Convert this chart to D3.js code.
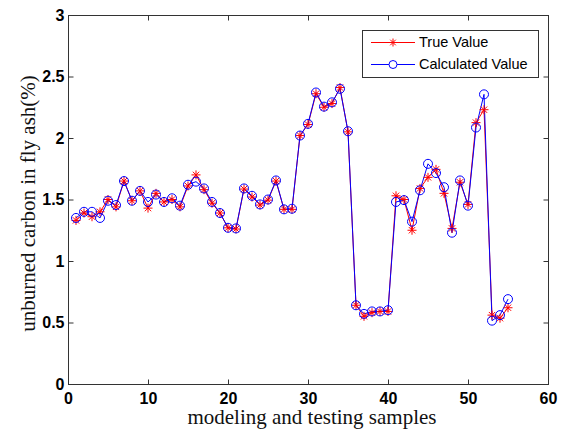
<!DOCTYPE html>
<html><head><meta charset="utf-8">
<script src="https://cdn.jsdelivr.net/npm/d3@7"></script>
<style>html,body{margin:0;padding:0;background:#fff;}svg{display:block;}</style>
</head><body>
<svg id="chart" width="564" height="432"></svg>
<script>
const samples = [1,2,3,4,5,6,7,8,9,10,11,12,13,14,15,16,17,18,19,20,21,22,23,24,25,26,27,28,29,30,31,32,33,34,35,36,37,38,39,40,41,42,43,44,45,46,47,48,49,50,51,52,53,54,55];
const trueValue = [1.33,1.39,1.36,1.40,1.50,1.44,1.65,1.49,1.57,1.43,1.55,1.48,1.50,1.44,1.61,1.70,1.58,1.47,1.39,1.27,1.26,1.585,1.52,1.455,1.495,1.65,1.42,1.42,2.02,2.11,2.36,2.25,2.28,2.41,2.05,0.64,0.55,0.58,0.59,0.59,1.53,1.50,1.25,1.59,1.68,1.745,1.55,1.265,1.64,1.46,2.125,2.23,0.56,0.535,0.62];
const calcValue = [1.35,1.40,1.40,1.35,1.49,1.455,1.65,1.49,1.57,1.48,1.54,1.48,1.51,1.45,1.62,1.645,1.59,1.48,1.39,1.27,1.265,1.59,1.53,1.46,1.50,1.655,1.42,1.425,2.02,2.115,2.37,2.255,2.29,2.40,2.055,0.64,0.57,0.59,0.59,0.60,1.48,1.495,1.32,1.575,1.79,1.715,1.60,1.23,1.655,1.45,2.085,2.355,0.515,0.56,0.69];
const xTicks = [0,10,20,30,40,50,60];
const yTicks = [0,0.5,1,1.5,2,2.5,3];
const yTickLabels = ["0","0.5","1","1.5","2","2.5","3"];
const seriesNames = ["True Value","Calculated Value"];

const svg = d3.select("#chart");
const L = 68, R = 548, T = 15, B = 384;
const x = d3.scaleLinear().domain([0,60]).range([L,R]);
const y = d3.scaleLinear().domain([0,3]).range([B,T]);

const axColor = "#333";
const tickFont = "bold 16px 'Liberation Sans', Arial, sans-serif";

// box
svg.append("rect").attr("x",L+0.5).attr("y",T+0.5).attr("width",R-L).attr("height",B-T)
  .attr("fill","#fff").attr("stroke",axColor).attr("stroke-width",1);

// axes with inward ticks
const gx = svg.append("g").attr("transform",`translate(0,${B+0.5})`)
  .call(d3.axisBottom(x).tickValues(xTicks).tickSizeInner(-5).tickSizeOuter(0).tickPadding(10).tickFormat(d3.format("d")));
const gxt = svg.append("g").attr("transform",`translate(0,${T+0.5})`)
  .call(d3.axisTop(x).tickValues(xTicks).tickSizeInner(-5).tickSizeOuter(0).tickFormat(""));
const gy = svg.append("g").attr("transform",`translate(${L+0.5},0)`)
  .call(d3.axisLeft(y).tickValues(yTicks).tickSizeInner(-5).tickSizeOuter(0).tickPadding(4).tickFormat((d,i)=>yTickLabels[i]));
const gyr = svg.append("g").attr("transform",`translate(${R+0.5},0)`)
  .call(d3.axisRight(y).tickValues(yTicks).tickSizeInner(-5).tickSizeOuter(0).tickFormat(""));
[gx,gxt,gy,gyr].forEach(g=>{
  g.select(".domain").remove();
  g.selectAll(".tick line").attr("stroke",axColor);
  g.selectAll("text").style("font",tickFont).attr("fill","#000");
});
gx.selectAll("text").attr("y",19).attr("dy","0");

// lines
const lineGen = d3.line().x((d,i)=>x(samples[i])).y(d=>y(d));
svg.append("path").datum(trueValue).attr("d",lineGen).attr("fill","none").attr("stroke","#ff0000").attr("stroke-width",1);
svg.append("path").datum(calcValue).attr("d",lineGen).attr("fill","none").attr("stroke","#0000ff").attr("stroke-width",1);

// star markers
function star(g, cx, cy, s, color){
  const d = `M${cx-s},${cy}L${cx+s},${cy}M${cx},${cy-s}L${cx},${cy+s}M${cx-s*0.7},${cy-s*0.7}L${cx+s*0.7},${cy+s*0.7}M${cx-s*0.7},${cy+s*0.7}L${cx+s*0.7},${cy-s*0.7}`;
  g.append("path").attr("d",d).attr("stroke",color).attr("stroke-width",1).attr("fill","none");
}
const gStars = svg.append("g");
trueValue.forEach((v,i)=>star(gStars, x(samples[i]), y(v), 4.5, "#ff0000"));

svg.append("g").selectAll("circle").data(calcValue).join("circle")
  .attr("cx",(d,i)=>x(samples[i])).attr("cy",d=>y(d)).attr("r",4.5)
  .attr("fill","none").attr("stroke","#0000ff").attr("stroke-width",1);

// axis labels
svg.append("text").attr("x",(L+R)/2+4).attr("y",424).attr("text-anchor","middle")
  .style("font","21px 'Liberation Serif', 'Times New Roman', serif").attr("fill","#111")
  .text("modeling and testing samples");
svg.append("text").attr("transform",`translate(35,${(T+B)/2+4}) rotate(-90)`).attr("text-anchor","middle")
  .style("font","21px 'Liberation Serif', 'Times New Roman', serif").attr("fill","#111")
  .text("unburned carbon in fly ash(%)");

// legend
const lg = svg.append("g");
lg.append("rect").attr("x",362.5).attr("y",30.5).attr("width",176).attr("height",47)
  .attr("fill","#fff").attr("stroke",axColor).attr("stroke-width",1);
const legY = [42,64];
const legColors = ["#ff0000","#0000ff"];
seriesNames.forEach((name,i)=>{
  lg.append("line").attr("x1",371).attr("x2",415).attr("y1",legY[i]+0.5).attr("y2",legY[i]+0.5)
    .attr("stroke",legColors[i]).attr("stroke-width",1);
  if(i===0) star(lg, 393, legY[i]+0.5, 4, "#ff0000");
  else lg.append("circle").attr("cx",393).attr("cy",legY[i]+0.5).attr("r",4).attr("fill","#fff").attr("stroke","#0000ff");
  lg.append("text").attr("x",419).attr("y",legY[i]+5).style("font","14.5px 'Liberation Sans', Arial, sans-serif")
    .attr("fill","#000").text(name);
});
</script>
</body></html>
